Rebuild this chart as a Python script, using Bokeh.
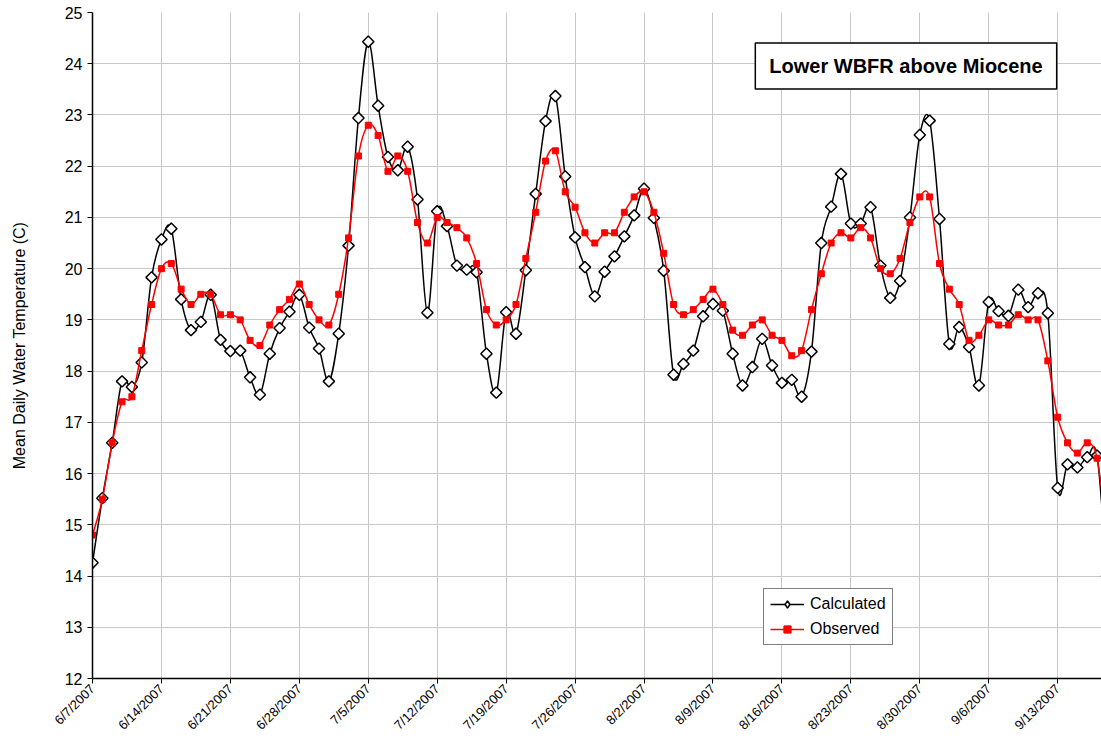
import math
from bokeh.plotting import figure
from bokeh.models import (FixedTicker, Label, Legend, LegendItem, Range1d,
                          ColumnDataSource)
from bokeh.embed import file_html
from bokeh.resources import INLINE

# Weekly tick positions (days after 6/7/2007) and their labels
tick_days = [0, 7, 14, 21, 28, 35, 42, 49, 56, 63, 70, 77, 84, 91, 98]
tick_labels = ["6/7/2007", "6/14/2007", "6/21/2007", "6/28/2007", "7/5/2007",
               "7/12/2007", "7/19/2007", "7/26/2007", "8/2/2007", "8/9/2007",
               "8/16/2007", "8/23/2007", "8/30/2007", "9/6/2007", "9/13/2007"]

# Mean daily water temperature (C), one value per day from 6/7/2007
calculated = [14.26, 15.52, 16.60, 17.80, 17.69, 18.17, 19.83, 20.57, 20.78, 19.40,
              18.80, 18.96, 19.49, 18.61, 18.39, 18.40, 17.88, 17.54, 18.34, 18.84,
              19.16, 19.49, 18.85, 18.44, 17.80, 18.73, 20.45, 22.94, 24.43, 23.18,
              22.18, 21.92, 22.38, 21.35, 19.14, 21.12, 20.83, 20.06, 19.98, 19.93,
              18.34, 17.58, 19.15, 18.73, 19.97, 21.46, 22.88, 23.37, 21.80, 20.61,
              20.03, 19.46, 19.94, 20.24, 20.63, 21.04, 21.56, 20.99, 19.96, 17.93,
              18.14, 18.40, 19.07, 19.31, 19.18, 18.34, 17.72, 18.08, 18.63, 18.11,
              17.77, 17.83, 17.50, 18.38, 20.50, 21.21, 21.85, 20.88, 20.88, 21.20,
              20.06, 19.43, 19.76, 21.00, 22.61, 22.89, 20.97, 18.53, 18.86, 18.47,
              17.72, 19.35, 19.17, 19.08, 19.59, 19.25, 19.52, 19.13, 15.72, 16.18,
              16.12, 16.32, 16.35, 14.00]

observed = [14.8, 15.5, 16.6, 17.4, 17.5, 18.4, 19.3, 20.0, 20.1, 19.6,
            19.3, 19.5, 19.5, 19.1, 19.1, 19.0, 18.6, 18.5, 18.9, 19.2,
            19.4, 19.7, 19.3, 19.0, 18.9, 19.5, 20.6, 22.2, 22.8, 22.6,
            21.9, 22.2, 21.9, 20.9, 20.5, 21.0, 20.9, 20.8, 20.6, 20.1,
            19.2, 18.9, 19.0, 19.3, 20.2, 21.1, 22.1, 22.3, 21.5, 21.2,
            20.7, 20.5, 20.7, 20.7, 21.1, 21.4, 21.5, 21.1, 20.3, 19.3,
            19.1, 19.2, 19.4, 19.6, 19.3, 18.8, 18.7, 18.9, 19.0, 18.7,
            18.6, 18.3, 18.4, 19.2, 19.9, 20.5, 20.7, 20.6, 20.8, 20.6,
            20.0, 19.9, 20.2, 20.9, 21.4, 21.4, 20.1, 19.6, 19.3, 18.6,
            18.7, 19.0, 18.9, 18.9, 19.1, 19.0, 19.0, 18.2, 17.1, 16.6,
            16.4, 16.6, 16.3, 14.8]

days = list(range(len(calculated)))

FONT = "Liberation Sans"
NAN = float("nan")


def smooth_segments(xs, ys):
    """Cubic Bezier segments through the points (Catmull-Rom style smoothing)."""
    n = len(xs)
    seg = dict(x0=[], y0=[], x1=[], y1=[], cx0=[], cy0=[], cx1=[], cy1=[])
    for i in range(n - 1):
        a = max(i - 1, 0)
        b = min(i + 2, n - 1)
        seg["x0"].append(xs[i]); seg["y0"].append(ys[i])
        seg["x1"].append(xs[i + 1]); seg["y1"].append(ys[i + 1])
        seg["cx0"].append(xs[i] + (xs[i + 1] - xs[a]) / 6.0)
        seg["cy0"].append(ys[i] + (ys[i + 1] - ys[a]) / 6.0)
        seg["cx1"].append(xs[i + 1] - (xs[b] - xs[i]) / 6.0)
        seg["cy1"].append(ys[i + 1] - (ys[b] - ys[i]) / 6.0)
    return ColumnDataSource(seg)


p = figure(width=1101, height=742,
           x_range=Range1d(0, 102.45), y_range=Range1d(12, 25),
           output_backend="svg", toolbar_location=None,
           min_border_left=92, min_border_right=0,
           min_border_top=12, min_border_bottom=64)
p.outline_line_color = None
p.background_fill_color = "white"
p.border_fill_color = "white"

# axes
p.xaxis.ticker = FixedTicker(ticks=tick_days)
p.xaxis.major_label_overrides = {d: lab for d, lab in zip(tick_days, tick_labels)}
p.xaxis.major_label_orientation = math.pi / 4
p.yaxis.ticker = FixedTicker(ticks=list(range(12, 26)))
for ax in (p.xaxis, p.yaxis):
    ax.axis_line_color = "black"
    ax.axis_line_width = 1.5
    ax.major_tick_line_color = "black"
    ax.major_tick_in = 0
    ax.major_tick_out = 5
    ax.minor_tick_line_color = None
    ax.major_label_text_font = FONT
    ax.major_label_text_color = "black"
p.xaxis.major_label_text_font_size = "13px"
p.yaxis.major_label_text_font_size = "16px"
p.xaxis.major_label_standoff = 3
p.yaxis.major_label_standoff = 5
p.yaxis.axis_label = "Mean Daily Water Temperature (C)"
p.yaxis.axis_label_text_font = FONT
p.yaxis.axis_label_text_font_size = "16px"
p.yaxis.axis_label_text_font_style = "normal"
p.yaxis.axis_label_text_color = "black"
p.yaxis.axis_label_standoff = 34

p.xgrid.ticker = FixedTicker(ticks=tick_days)
p.ygrid.ticker = FixedTicker(ticks=list(range(12, 26)))
p.xgrid.grid_line_color = "#c8c8c8"
p.ygrid.grid_line_color = "#c8c8c8"

# calculated series
calc_src = ColumnDataSource(dict(x=days, y=calculated))
p.bezier(x0="x0", y0="y0", x1="x1", y1="y1", cx0="cx0", cy0="cy0", cx1="cx1", cy1="cy1",
         source=smooth_segments(days, calculated), line_color="black", line_width=1.5)
calc_pts = p.scatter("x", "y", source=calc_src, marker="square", angle=math.pi / 4,
                     size=8, line_color="black", line_width=1.5, fill_color="white")

# observed series
obs_src = ColumnDataSource(dict(x=days, y=observed))
p.bezier(x0="x0", y0="y0", x1="x1", y1="y1", cx0="cx0", cy0="cy0", cx1="cx1", cy1="cy1",
         source=smooth_segments(days, observed), line_color="#ff0000", line_width=1.5)
obs_pts = p.scatter("x", "y", source=obs_src, marker="square", size=6,
                    line_color="#ff0000", fill_color="#ff0000")

# legend swatches (nothing drawn in the plot itself)
calc_line = p.line(x=[NAN], y=[NAN], line_color="black", line_width=1.5)
calc_mark = p.scatter(x=[NAN], y=[NAN], marker="diamond", size=15,
                      line_color="black", line_width=1.5, fill_color="white")
obs_line = p.line(x=[NAN], y=[NAN], line_color="#ff0000", line_width=1.5)

legend = Legend(items=[LegendItem(label="Calculated", renderers=[calc_line, calc_mark]),
                       LegendItem(label="Observed", renderers=[obs_line, obs_pts])],
                location=(671, 33), orientation="vertical",
                label_text_font=FONT, label_text_font_size="16px",
                label_text_color="black", label_standoff=6,
                glyph_width=34, glyph_height=18, spacing=7, padding=6, margin=0,
                border_line_color="black", border_line_width=1,
                background_fill_color="white", background_fill_alpha=1)
p.add_layout(legend)

title_box = Label(x=813.5, y=612.5, x_units="screen", y_units="screen",
                  text="Lower WBFR above Miocene", text_font=FONT,
                  text_font_size="20px", text_font_style="bold", text_color="black",
                  text_align="center", text_baseline="middle",
                  background_fill_color="white", border_line_color="black",
                  border_line_width=1.5,
                  padding=dict(left=14, right=14, top=12, bottom=12))
p.add_layout(title_box)

open("out.html", "w").write(file_html(p, INLINE))
